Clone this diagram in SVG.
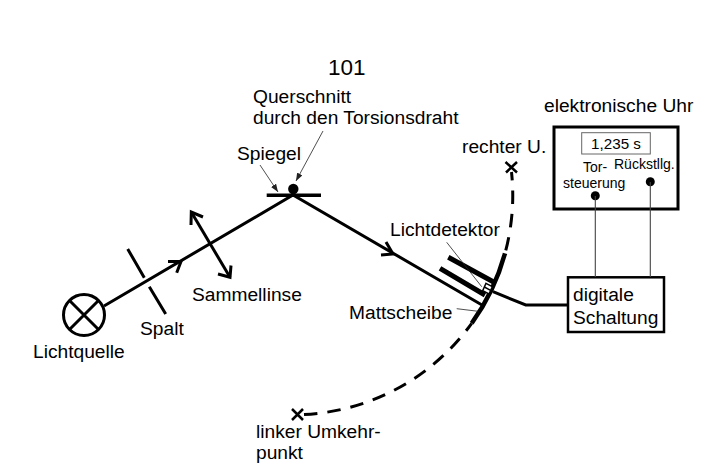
<svg xmlns="http://www.w3.org/2000/svg" width="709" height="471" viewBox="0 0 709 471">
<style>
text{font-family:"Liberation Sans",Arial,sans-serif;font-size:19.2px;fill:#000}
.s{font-size:14px}
.l{fill:none;stroke:#000;stroke-width:3;stroke-linecap:butt;stroke-linejoin:miter}
.t{fill:none;stroke:#222;stroke-width:.8}
.g{fill:none;stroke:#444;stroke-width:1.1}
.b{fill:#fff;stroke:#000}
</style>
<defs>
<marker id="a" viewBox="0 0 8 6" refX="8" refY="3" markerWidth="8" markerHeight="6" markerUnits="userSpaceOnUse" orient="auto"><path d="M0 0L8 3L0 6Z" fill="#222"/></marker>
</defs>
<rect width="709" height="471" fill="#fff"/>
<text x="328" y="75" style="font-size:22.5px">101</text>
<g id="lichtquelle">
<circle class="l" cx="84" cy="315" r="20.5"/>
<path class="l" d="M69.500 300.500L98.500 329.500M98.500 300.500L69.500 329.500"/>
<text x="33" y="358">Lichtquelle</text>
</g>
<g id="spalt">
<path class="l" d="M127.700 249L144.300 277.700M149.300 286.700L165.700 314"/>
<text x="140" y="335">Spalt</text>
</g>
<g id="sammellinse">
<path class="l" d="M191.300 212L230 277.300"/>
<path class="l" d="M203 217L191.300 212L191 225M218 274L230 277.300L231 265.500"/>
<text x="192" y="301">Sammellinse</text>
</g>
<g id="spiegel">
<path d="M266.700 195.300H321" fill="none" stroke="#000" stroke-width="3.500"/>
<circle cx="293.300" cy="189" r="5.200"/>
<text x="237" y="160">Spiegel</text>
<text x="253" y="103">Querschnitt</text>
<text x="253" y="124">durch den Torsionsdraht</text>
</g>
<g id="mattscheibe">
<path class="l" d="M505 253.300A219.500 219.500 0 0 1 471.700 323.300" style="stroke-width:4.500"/>
<path class="l" d="M511.500 172A219.500 219.500 0 0 1 505 253.300" stroke-dasharray="13.500 10" stroke-dashoffset="5"/>
<path class="l" d="M304 414.500A219.500 219.500 0 0 0 471.700 323.300" stroke-dasharray="13.500 10"/>
<path class="l" d="M505.500 162L517 172.500M517 162L506 172.500M292 409L303 420M303 409L292 420" style="stroke-width:2.500"/>
<text x="349" y="319">Mattscheibe</text>
<text x="462" y="153">rechter U.</text>
<text x="256" y="438">linker Umkehr-</text>
<text x="256" y="459">punkt</text>
</g>
<g id="lichtdetektor">
<path d="M448.300 257.300L495 282.700M440 268.300L485 295" fill="none" stroke="#000" stroke-width="5"/>
<path d="M486 283.300L492.300 286.700L489 294L482.700 290.700Z" fill="#fff" stroke="#000" stroke-width="1.500"/>
<path d="M484.400 287L490.600 290.300" fill="none" stroke="#000" stroke-width="1.500"/>
<text x="390" y="236">Lichtdetektor</text>
</g>
<g id="uhr">
<text x="544" y="112">elektronische Uhr</text>
<rect class="b" x="554" y="127" width="124" height="82" stroke-width="3"/>
<rect x="581.700" y="132.700" width="68.600" height="21.300" fill="#fff" stroke="#666" stroke-width="1"/>
<text x="616" y="149" text-anchor="middle" style="font-size:15.200px">1,235 s</text>
<text class="s" x="583" y="172">Tor-</text>
<text class="s" x="563" y="188">steuerung</text>
<text class="s" x="614" y="169">Rückstllg.</text>
<circle cx="595.300" cy="195.700" r="4.500"/>
<circle cx="650.300" cy="181.700" r="4.500"/>
</g>
<g id="schaltung">
<rect class="b" x="568" y="277.300" width="96" height="54.700" stroke-width="2.500"/>
<text x="573" y="301">digitale</text>
<text x="573" y="324">Schaltung</text>
</g>
<g id="connectors">
<path class="l" d="M104 306L293 195L482 305"/>
<path class="l" d="M493 291.700L525.700 305H568"/>
<path class="l" d="M168 261.500L181 261.500L176.700 272.700"/>
<path class="l" d="M381 255L393 254L386 242"/>
<path class="g" d="M595.300 196V277M650.300 182V277"/>
<path class="t" d="M260 165L278 192" marker-end="url(#a)"/>
<path class="t" d="M323 131L296 181" marker-end="url(#a)"/>
<path class="t" d="M446.700 242.300L481.700 286.700"/>
<path class="t" d="M456.700 308.700L478.300 311.300"/>
</g>
</svg>
